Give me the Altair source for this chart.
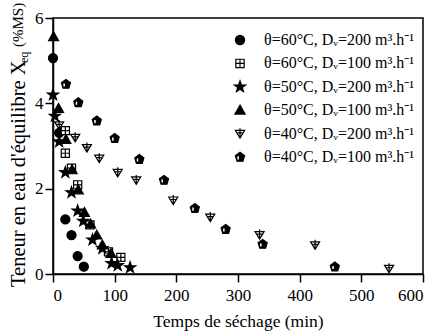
import altair as alt
import pandas as pd

# ---- data ----
labels = [
    "θ=60°C, Dᵥ=200 m³.h⁻¹",
    "θ=60°C, Dᵥ=100 m³.h⁻¹",
    "θ=50°C, Dᵥ=200 m³.h⁻¹",
    "θ=50°C, Dᵥ=100 m³.h⁻¹",
    "θ=40°C, Dᵥ=200 m³.h⁻¹",
    "θ=40°C, Dᵥ=100 m³.h⁻¹",
]

t_60_200 = [0, 10, 20, 30, 40, 50]
x_60_200 = [5.06, 3.31, 1.28, 0.91, 0.42, 0.17]

t_60_100 = [20, 20, 30, 40, 60, 90, 110]
x_60_100 = [3.36, 2.83, 2.48, 2.09, 1.15, 0.52, 0.39]

t_50_200 = [0, 3, 10, 20, 30, 40, 49, 64, 80, 95, 105, 125]
x_50_200 = [4.2, 3.7, 3.1, 2.38, 1.91, 1.48, 1.24, 0.8, 0.6, 0.25, 0.2, 0.15]

t_50_100 = [1, 9, 21, 31, 41, 51, 61, 71, 80, 94]
x_50_100 = [5.56, 3.88, 3.15, 2.44, 1.97, 1.44, 1.17, 0.91, 0.68, 0.48]

t_40_200 = [10, 36, 55, 75, 105, 135, 195, 255, 335, 425, 545]
x_40_200 = [3.49, 3.2, 2.96, 2.71, 2.38, 2.2, 1.73, 1.33, 0.92, 0.68, 0.13]

t_40_100 = [21, 41, 71, 100, 140, 180, 230, 280, 340, 457]
x_40_100 = [4.45, 4.02, 3.59, 3.18, 2.69, 2.2, 1.54, 1.05, 0.7, 0.17]

x_ticks = [0, 100, 200, 300, 400, 500, 600]
y_ticks = [0, 2, 4, 6]

series = [
    (t_60_200, x_60_200),
    (t_60_100, x_60_100),
    (t_50_200, x_50_200),
    (t_50_100, x_50_100),
    (t_40_200, x_40_200),
    (t_40_100, x_40_100),
]
rows = []
for lab, (ts, xs) in zip(labels, series):
    for t, v in zip(ts, xs):
        rows.append({"t": t, "X": v, "serie": lab})
df = pd.DataFrame(rows)
legend_df = pd.DataFrame({"serie": labels, "row": list(range(len(labels)))})

# ---- marker shapes ----
circle = "circle"
sq_cross = "M-0.9,-0.9L0.9,-0.9L0.9,0.9L-0.9,0.9Z M0,-0.9L0,0.9 M-0.9,0L0.9,0"
star = ("M0,-1.3L0.3,-0.42L1.24,-0.4L0.49,0.16L0.76,1.05L0,0.52"
        "L-0.76,1.05L-0.49,0.16L-1.24,-0.4L-0.3,-0.42Z")
tri_up = "M0,-1.1L1.1,0.85L-1.1,0.85Z"
tri_down_cross = "M-1,-0.7L1,-0.7L0,0.95Z M0,-1.15L0,0.95 M-0.55,-0.15L0.55,-0.15"
pent = ("M0,-1.05L1.0,-0.3L0.65,0.9L-0.65,0.9L-1.0,-0.3Z "
        "M-0.7,-0.3L-0.7,0.65L-0.1,0.65L-0.1,-0.3Z")
shapes = [circle, sq_cross, star, tri_up, tri_down_cross, pent]
fills = ["black", "white", "black", "black", "white", "black"]

FONT = "Liberation Serif"

shape_enc = alt.Shape("serie:N", scale=alt.Scale(domain=labels, range=shapes), legend=None)
fill_enc = alt.Fill("serie:N", scale=alt.Scale(domain=labels, range=fills), legend=None)

points = alt.Chart(df).mark_point(filled=False, stroke="black", strokeWidth=1.2, size=82, opacity=1).encode(
    x=alt.X("t:Q", scale=alt.Scale(domain=[0, 600], nice=False),
            axis=alt.Axis(values=x_ticks, title="Temps de séchage (min)")),
    y=alt.Y("X:Q", scale=alt.Scale(domain=[0, 6], nice=False),
            axis=alt.Axis(values=y_ticks, title=None)),
    shape=shape_enc,
    fill=fill_enc,
)

# ---- legend drawn as its own small layer ----
leg_y = alt.Y("row:Q", scale=alt.Scale(domain=[0, 5], range=[22, 139]), axis=None)
leg_sym = alt.Chart(legend_df).mark_point(filled=False, stroke="black", strokeWidth=1.2, size=85, opacity=1).encode(
    x=alt.value(187), y=leg_y, shape=shape_enc, fill=fill_enc,
)
leg_txt = alt.Chart(legend_df).mark_text(
    align="left", baseline="middle", font=FONT, fontSize=16, color="black"
).encode(x=alt.value(211), y=leg_y, text="serie:N")
legend_layer = alt.layer(leg_sym, leg_txt)

title_df = pd.DataFrame({"a": [1]})
ttl1 = alt.Chart(title_df).mark_text(
    angle=270, align="left", baseline="alphabetic", font=FONT, fontSize=20.5, color="black"
).encode(x=alt.value(-28), y=alt.value(269), text=alt.value("Teneur en eau d'équilibre X"))
ttl2 = alt.Chart(title_df).mark_text(
    angle=270, align="left", baseline="alphabetic", font=FONT, fontSize=12, color="black"
).encode(x=alt.value(-25), y=alt.value(45), text=alt.value("eq"))
ttl3 = alt.Chart(title_df).mark_text(
    angle=270, align="left", baseline="alphabetic", font=FONT, fontSize=15, color="black"
).encode(x=alt.value(-30), y=alt.value(29), text=alt.value("(%MS)"))

chart = alt.layer(points, legend_layer, ttl1, ttl2, ttl3).resolve_scale(
    y="independent"
).properties(
    width=370, height=256,
    background="white",
    autosize=alt.AutoSizeParams(type="none"),
    padding={"left": 53, "top": 18, "right": 14, "bottom": 59},
).configure_view(
    stroke="black", strokeWidth=1.5
).configure_axis(
    grid=False, domainColor="black", domainWidth=1.5, tickColor="black", tickWidth=1.5,
    tickSize=8, labelFont=FONT, labelFontSize=17, labelColor="black", labelPadding=2,
    titleFont=FONT, titleFontSize=17.5, titleColor="black", titleFontWeight="normal",
).configure_axisX(labelPadding=5, titlePadding=9)

chart.save("out.html", embed_options={"renderer": "svg", "actions": False})
